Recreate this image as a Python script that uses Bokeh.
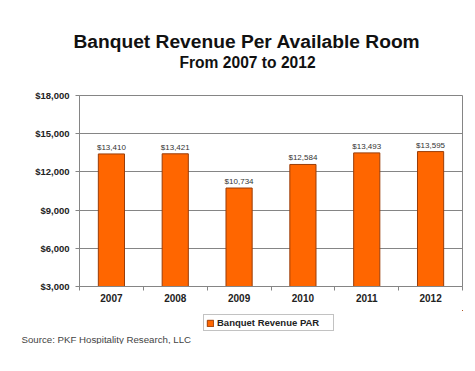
from bokeh.plotting import figure
from bokeh.models import (ColumnDataSource, FixedTicker, NumeralTickFormatter, Title,
                          LabelSet, Range1d, Legend, LegendItem)
from bokeh.core.properties import value
from bokeh.layouts import column
from bokeh.embed import file_html
from bokeh.resources import INLINE

years = ["2007", "2008", "2009", "2010", "2011", "2012"]
revenue = [13410, 13421, 10734, 12584, 13493, 13595]
y_ticks = [3000, 6000, 9000, 12000, 15000, 18000]
title = "Banquet Revenue Per Available Room"
subtitle = "From 2007 to 2012"
source_note = "Source:  PKF Hospitality Research, LLC"
series_name = "Banquet Revenue PAR"

FONT = "Liberation Sans"
GRAY = "#858585"
BAR_FILL = "#ff6600"
BAR_LINE = "#9a3d08"

xs = [i + 0.5 for i in range(len(years))]
src = ColumnDataSource(dict(x=xs, top=revenue,
                            label=[f"${v:,}" for v in revenue]))

# ---------------- main chart ----------------
p = figure(width=475, height=310, output_backend="svg", toolbar_location=None,
           x_range=Range1d(0, len(years)), y_range=Range1d(y_ticks[0], y_ticks[-1]),
           min_border_left=79, min_border_right=13, min_border_top=95, min_border_bottom=24,
           background_fill_color="white", border_fill_color="white")
p.outline_line_color = GRAY
p.outline_line_width = 1

p.vbar(x="x", top="top", bottom=y_ticks[0], width=0.41, source=src,
       fill_color=BAR_FILL, line_color=BAR_LINE, line_width=1)

p.add_layout(LabelSet(x="x", y="top", text="label", source=src, text_align="center",
                      text_baseline="bottom", y_offset=2, text_font=value(FONT),
                      text_font_size="8px", text_color="#333333"))

p.yaxis.ticker = FixedTicker(ticks=y_ticks)
p.yaxis.formatter = NumeralTickFormatter(format="$0,0")
p.yaxis.major_label_text_font = FONT
p.yaxis.major_label_text_font_size = "9.5px"
p.yaxis.major_label_text_font_style = "bold"
p.yaxis.major_label_text_color = "#222222"
p.yaxis.axis_line_color = GRAY
p.yaxis.major_tick_line_color = GRAY
p.yaxis.major_tick_out = 4
p.yaxis.major_tick_in = 0
p.yaxis.minor_tick_line_color = None
p.yaxis.major_label_standoff = 6

p.xaxis.ticker = FixedTicker(ticks=xs, minor_ticks=list(range(len(years) + 1)))
p.xaxis.major_label_overrides = {x: y for x, y in zip(xs, years)}
p.xaxis.major_label_text_font = FONT
p.xaxis.major_label_text_font_size = "10px"
p.xaxis.major_label_text_font_style = "bold"
p.xaxis.major_label_text_color = "#222222"
p.xaxis.axis_line_color = GRAY
p.xaxis.major_tick_line_color = None
p.xaxis.major_tick_out = 0
p.xaxis.major_tick_in = 0
p.xaxis.minor_tick_line_color = GRAY
p.xaxis.minor_tick_out = 4
p.xaxis.minor_tick_in = 0
p.xaxis.major_label_standoff = 3

p.xgrid.grid_line_color = None
p.ygrid.grid_line_color = GRAY
p.ygrid.grid_line_width = 1

# spacing between the frame and the subtitle
p.add_layout(Title(text=" ", align="center", standoff=6,
                   text_font=FONT, text_font_size="15.6px"), "above")
p.add_layout(Title(text=subtitle, align="left", offset=100, standoff=0,
                   text_font=FONT, text_font_size="15.6px", text_font_style="bold",
                   text_color="#111111"), "above")
p.add_layout(Title(text=title, align="left", offset=-6, standoff=0,
                   text_font=FONT, text_font_size="19.2px", text_font_style="bold",
                   text_color="#111111"), "above")

# ---------------- legend and source strip ----------------
q = figure(width=475, frame_height=21, output_backend="svg", toolbar_location=None,
           x_range=Range1d(-100, -99), y_range=Range1d(0, 1),
           x_axis_location=None, y_axis_location=None,
           min_border_left=79, min_border_right=13, min_border_top=0, min_border_bottom=0,
           background_fill_color="white", border_fill_color="white")
q.grid.grid_line_color = None
q.outline_line_color = None

# legend key renderer (same bars, lying outside this strip's visible range)
rk = q.vbar(x="x", top="top", bottom=y_ticks[0], width=0.41, source=src,
            fill_color=BAR_FILL, line_color=BAR_LINE, line_width=1)

lg = Legend(items=[LegendItem(label=series_name, renderers=[rk])], location=(124, 0))
lg.border_line_color = GRAY
lg.padding = 2
lg.margin = 0
lg.spacing = 0
lg.glyph_width = 8
lg.glyph_height = 8
lg.label_height = 10
lg.label_width = 114
lg.label_standoff = 3
lg.label_text_font = FONT
lg.label_text_font_size = "9.5px"
lg.label_text_font_style = "bold"
lg.label_text_color = "#222222"
lg.background_fill_color = "white"
q.add_layout(lg, "center")

q.add_layout(Title(text=source_note, align="left", offset=-58, standoff=0,
                   text_font=FONT, text_font_size="9.7px", text_font_style="normal",
                   text_color="#444444"), "below")

layout = column(p, q, spacing=0)
open("out.html", "w").write(file_html(layout, INLINE))
